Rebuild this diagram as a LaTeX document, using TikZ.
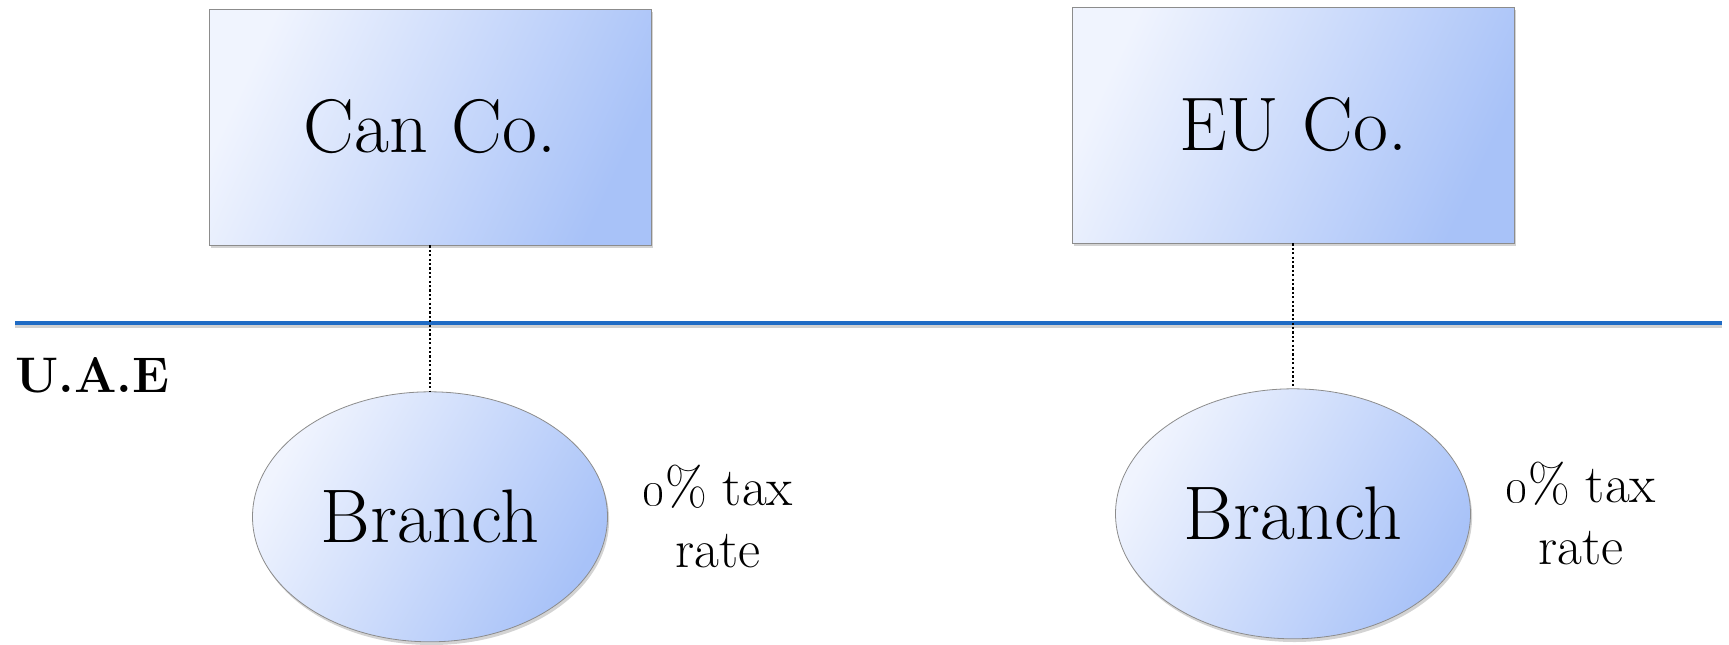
\documentclass[tikz,border=0pt]{standalone}
\usepackage{tikz}
\usepackage{xcolor}
\usetikzlibrary{positioning, shadows, shapes.geometric}
\definecolor{paleblue}{HTML}{F0F4FE}
\definecolor{midblue}{HTML}{A8C2F8}
\definecolor{rimgray}{HTML}{8C8C8C}
\definecolor{borderblue}{HTML}{1F6BC4}

\begin{document}
\begin{tikzpicture}[x=0.5pt, y=-0.5pt, node distance=73pt,
      every node/.style={font=\fontsize{38}{42}\selectfont, align=center, inner sep=0pt},
      firm/.style={draw=rimgray, left color=paleblue, right color=midblue, shading angle=65,
        drop shadow={opacity=0.35, shadow xshift=0.8pt, shadow yshift=-1.6pt},
        minimum width=221pt, minimum height=118pt},
      branch/.style={ellipse, draw=rimgray, left color=paleblue, right color=midblue, shading angle=60,
        drop shadow={opacity=0.35, shadow xshift=0.8pt, shadow yshift=-1.6pt},
        minimum width=177.5pt, minimum height=125pt},
      note/.style={font=\fontsize{27}{31}\selectfont},
      link/.style={line width=1.1pt, dash pattern=on 1.1pt off 1.1pt}]
    \useasboundingbox (0,0) rectangle (1729,644);
    % jurisdiction border
    \coordinate (borderL) at (15,323);
    \coordinate (borderR) at (1722,323);
    \draw[black, opacity=0.18, line width=2pt] ([yshift=-1.5pt]borderL) -- ([yshift=-1.5pt]borderR);
    \draw[borderblue, line width=2pt] (borderL) -- (borderR);
    \node[anchor=west, font=\fontsize{25}{28}\selectfont\bfseries] (uae) at (15,375) {U.A.E};
    % parents
    \node[firm] (canco) at (430,127) {Can Co.};
    \node[firm] (euco) at (1293,125) {EU Co.};
    % branches
    \node[branch, below=73pt of canco] (canbranch) {Branch};
    \node[branch, below=72.5pt of euco] (eubranch) {Branch};
    \node[note, right=17pt of canbranch] (cantax) {\oldstylenums{0}\% tax\\rate};
    \node[note, right=17pt of eubranch] (eutax) {\oldstylenums{0}\% tax\\rate};
    \draw[link] (canco.south) -- (canbranch.north);
    \draw[link] (euco.south) -- (eubranch.north);
  \end{tikzpicture}
\end{document}
